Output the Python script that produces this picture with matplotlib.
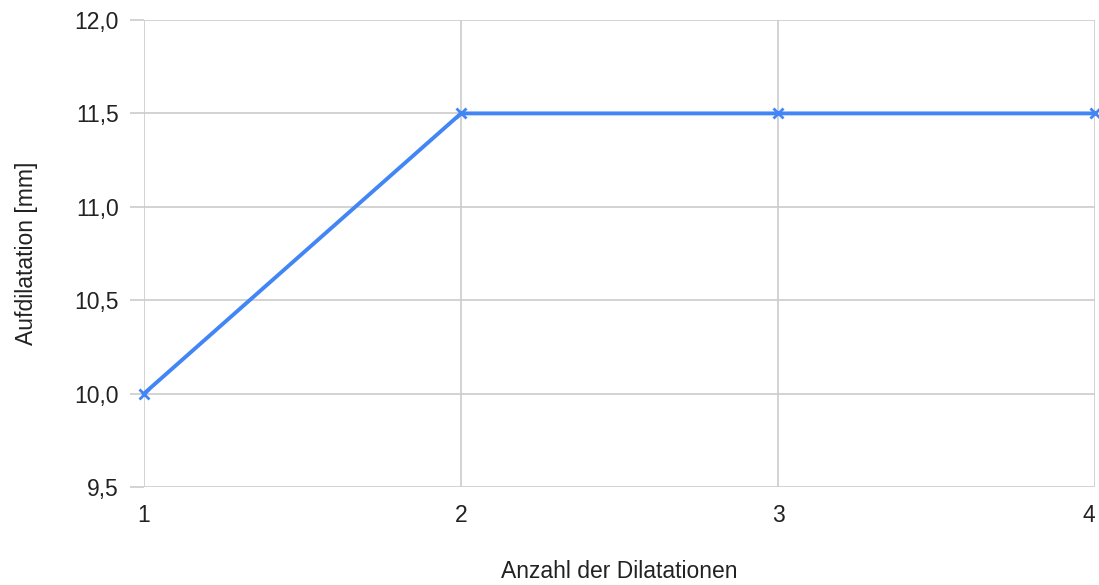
import matplotlib
matplotlib.use("Agg")
import matplotlib.pyplot as plt
from matplotlib.ticker import FuncFormatter

plt.rcParams['font.family'] = ['Liberation Sans', 'DejaVu Sans']

dilatationen = [1, 2, 3, 4]
aufdilatation = [10.0, 11.5, 11.5, 11.5]
y_ticks = [9.5, 10.0, 10.5, 11.0, 11.5, 12.0]

fig = plt.figure(figsize=(10.99, 5.85), dpi=100)
ax = fig.add_axes([0.131, 0.1675, 0.8655, 0.7983])

grid_color = '#cccccc'
text_color = '#222222'
fs = 16.5

ax.plot(dilatationen, aufdilatation, color='#4285F4', linewidth=2.8,
        marker='x', markersize=7, markeredgewidth=2.0, clip_on=False, zorder=3)

ax.set_xlim(1, 4)
ax.set_ylim(9.5, 12.0)
ax.set_xticks(dilatationen)
ax.set_yticks(y_ticks)
ax.yaxis.set_major_formatter(FuncFormatter(lambda v, p: f"{v:.1f}".replace('.', ',')))

ax.grid(True, color=grid_color, linewidth=1.2)
for s in ax.spines.values():
    s.set_visible(False)

ax.tick_params(axis='y', length=10, color=grid_color, width=1.2, pad=8,
               labelsize=fs, labelcolor=text_color)
ax.tick_params(axis='x', length=0, pad=12, labelsize=fs, labelcolor=text_color)

# keep the last category label inside the figure edge
ax.get_xticklabels()[-1].set_horizontalalignment('right')

ax.set_xlabel('Anzahl der Dilatationen', fontsize=fs, color=text_color, labelpad=24)
ax.set_ylabel('Aufdilatation [mm]', fontsize=fs, color=text_color, labelpad=26)

fig.savefig('out.png', dpi=100)
